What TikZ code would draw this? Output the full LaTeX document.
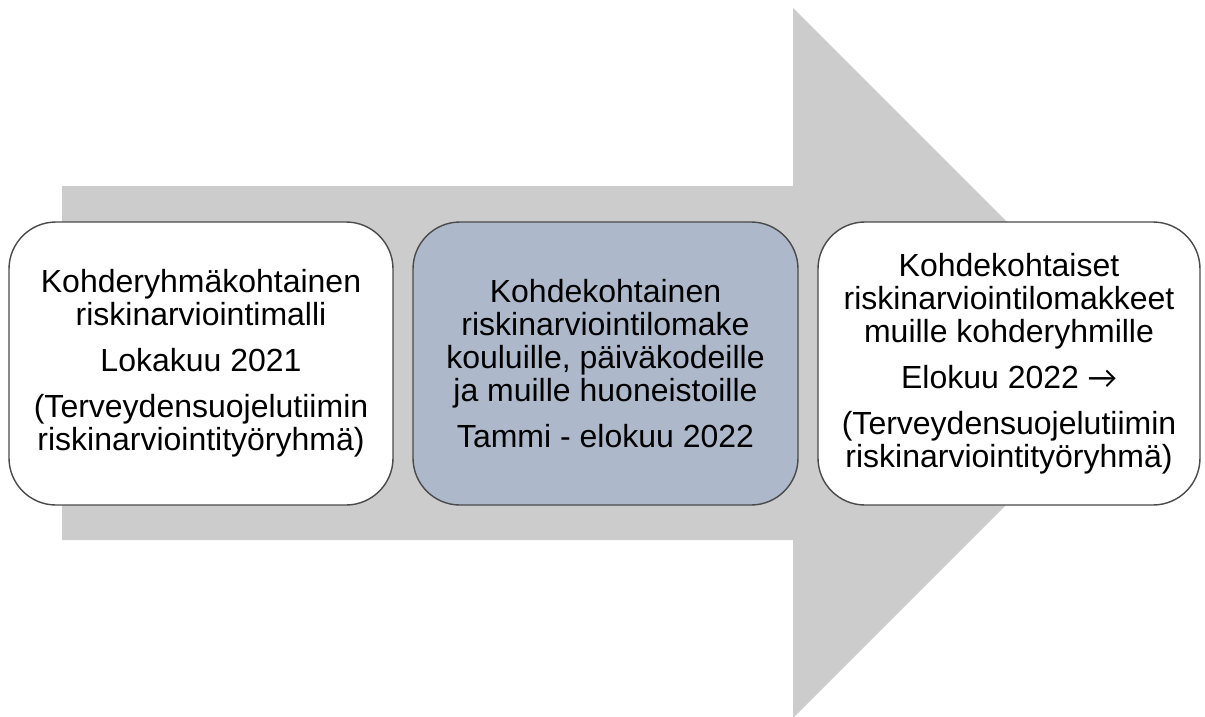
\documentclass[tikz,border=0pt]{standalone}
\usepackage{fontspec}
\setmainfont{Liberation Sans}
\newfontfamily\arrowfont{Carlito}
\definecolor{flowgray}{HTML}{CCCCCC}
\definecolor{stageblue}{HTML}{ADB9CA}
\definecolor{edgegray}{HTML}{4A4A4A}
\begin{document}
\begin{tikzpicture}[x=1pt,y=-1pt,
  stagebox/.style={draw=edgegray, line width=1.4pt, rounded corners=47pt,
    minimum height=283pt, align=center, inner sep=0pt,
    font=\fontsize{32}{33}\selectfont, text=black}]
\useasboundingbox (0,0) rectangle (1205,717);
\clip (0,0) rectangle (1205,717);
% broad process arrow in the background
\fill[flowgray] (62,186) -- (793,186) -- (793,8) -- (1148,363)
  -- (793,718) -- (793,540) -- (62,540) -- cycle;
% three stages
\node[stagebox, fill=white, minimum width=384pt] (s1) at (201,363.5)
  {Kohderyhmäkohtainen\\riskinarviointimalli\\[13pt]Lokakuu 2021\\[13pt](Terveydensuojelutiimin\\riskinarviointityöryhmä)};
\node[stagebox, fill=stageblue, minimum width=385pt] (s2) at (605.5,363.5)
  {Kohdekohtainen\\riskinarviointilomake\\kouluille, päiväkodeille\\ja muille huoneistoille\\[13pt]Tammi - elokuu 2022};
\node[stagebox, fill=white, minimum width=382pt] (s3) at (1009,363.5)
  {Kohdekohtaiset\\riskinarviointilomakkeet\\muille kohderyhmille\\[13pt]Elokuu 2022 {\arrowfont →}\\[13pt](Terveydensuojelutiimin\\riskinarviointityöryhmä)};
\end{tikzpicture}
\end{document}
